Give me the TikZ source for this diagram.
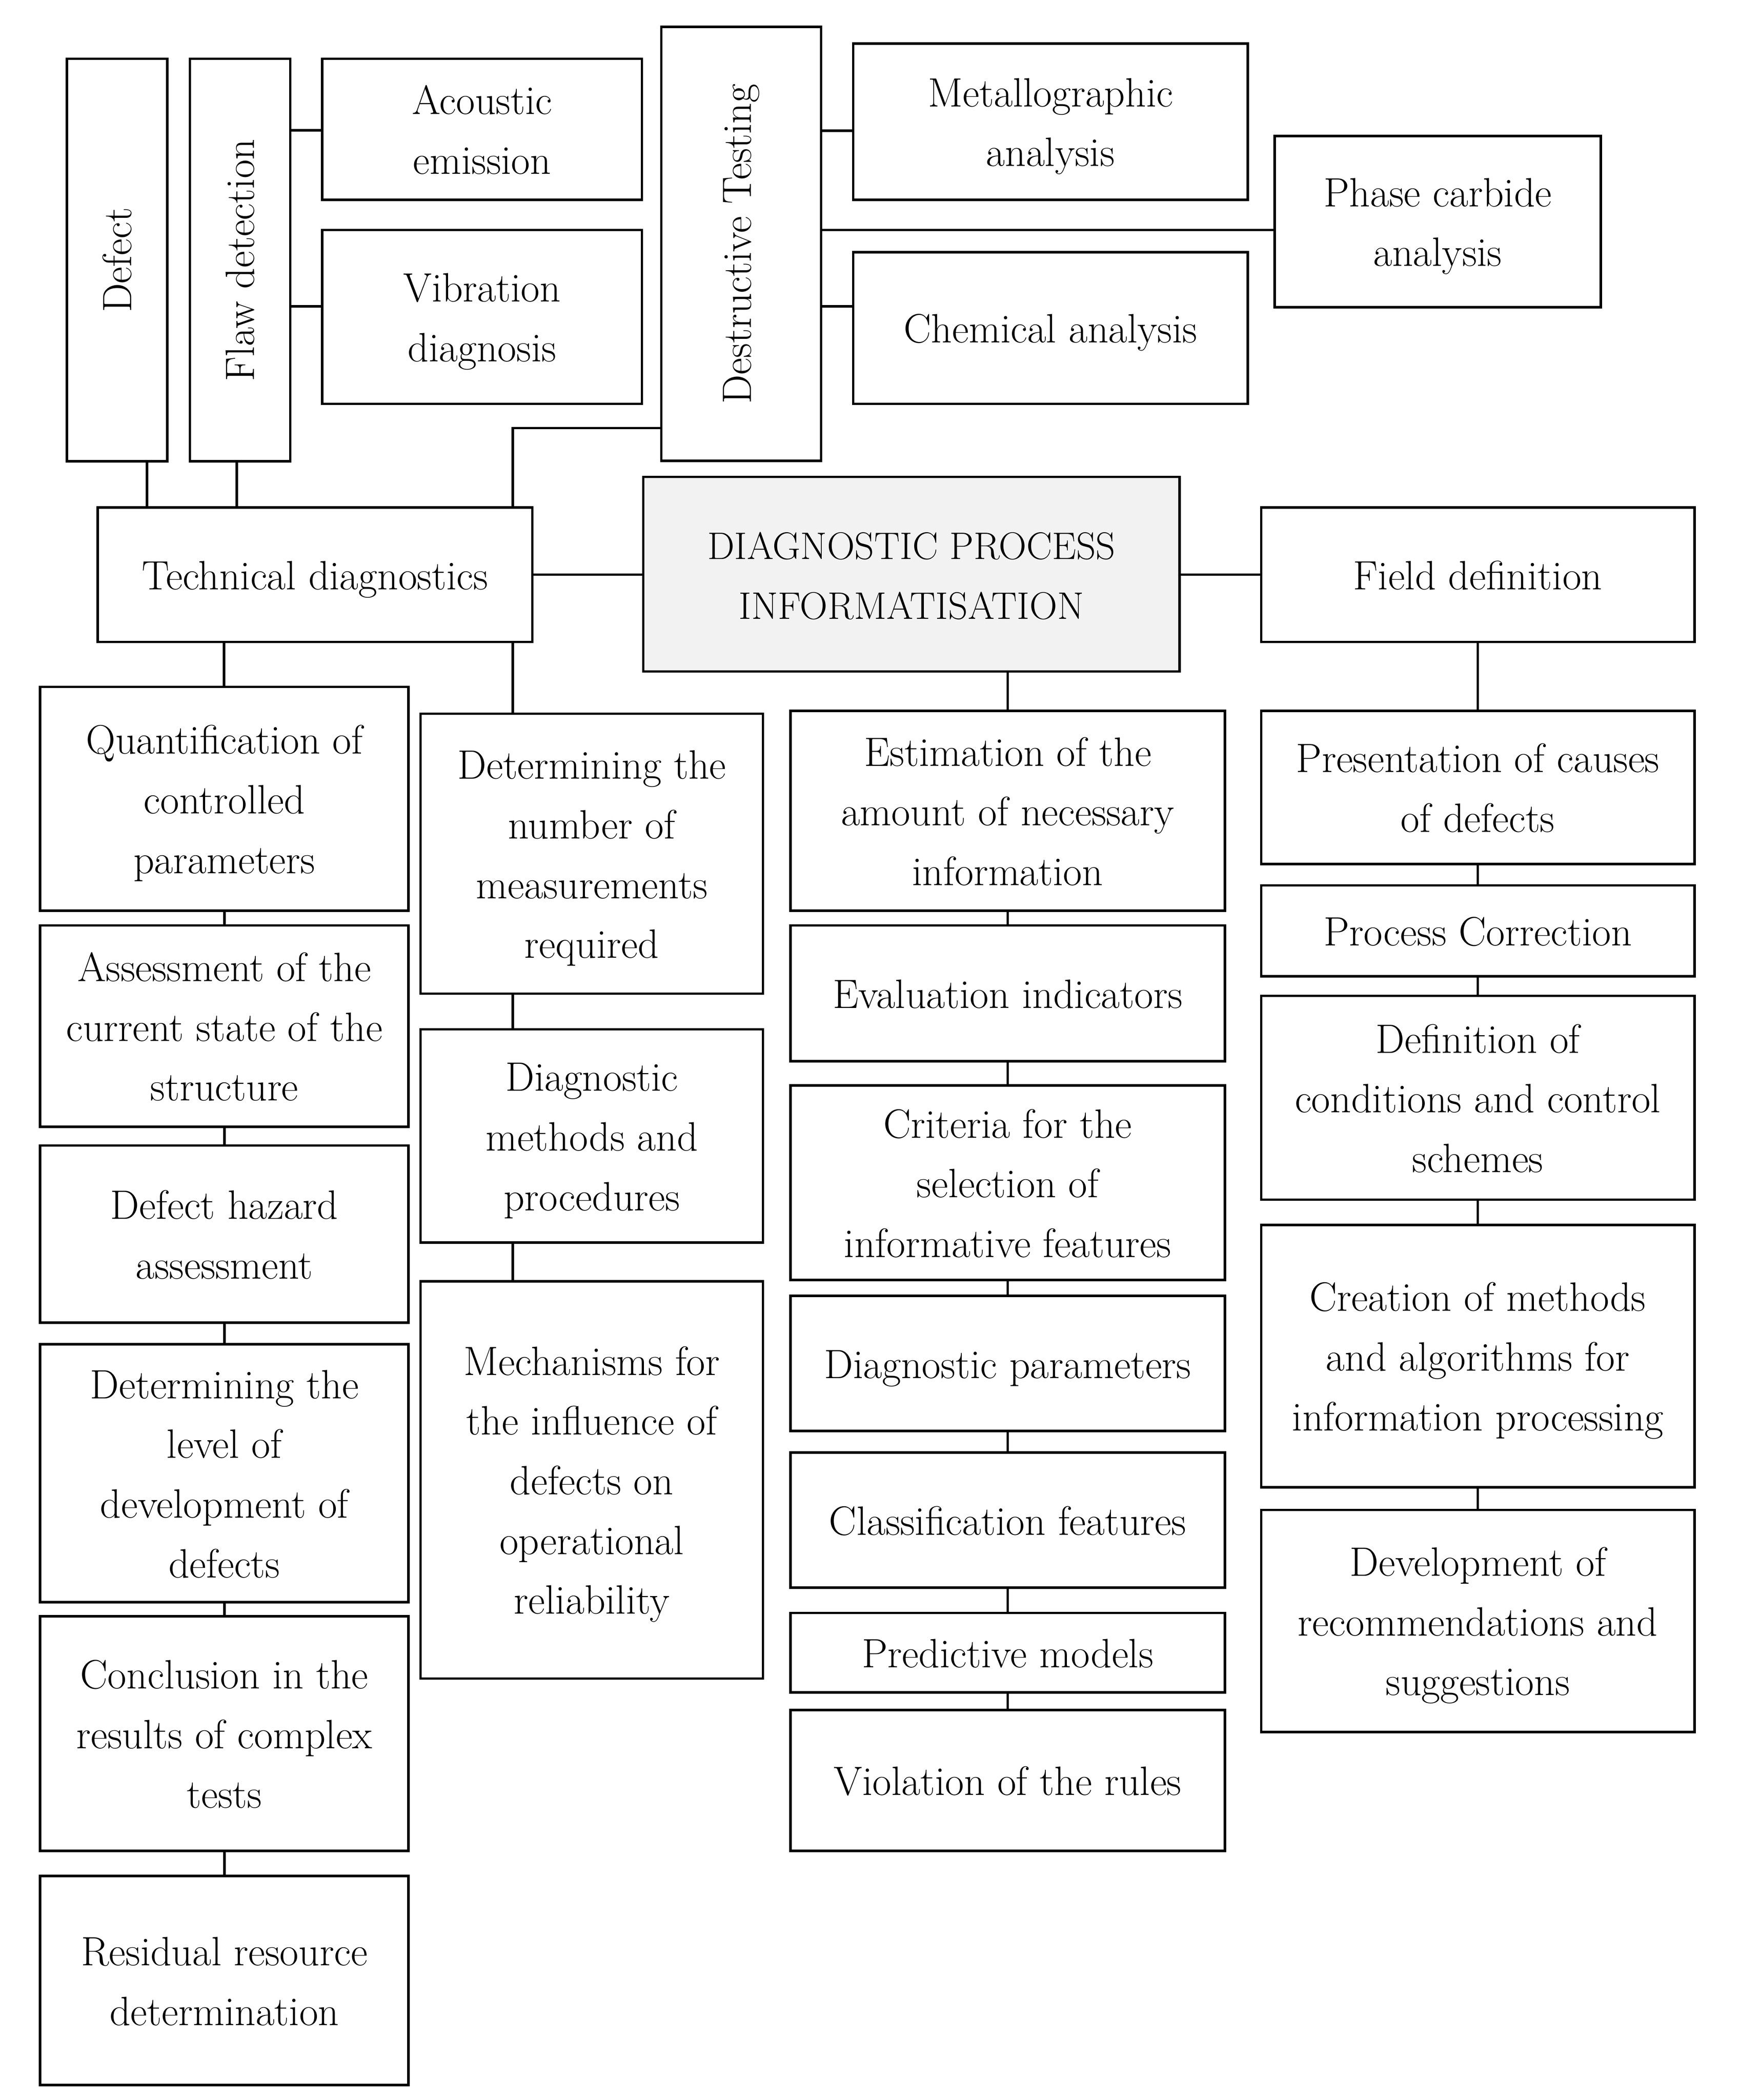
\documentclass[tikz,border=0pt]{standalone}
\usepackage{graphicx}
\definecolor{centerfill}{HTML}{F2F2F2}
\tikzset{
  box/.style={draw, line width=1.6pt, inner sep=0pt, outer sep=0pt, align=center,
    font=\fontsize{26.5}{38.6}\selectfont},
  conn/.style={line width=1.6pt}
}
\newcommand\bxstrut{\rule[-5.2pt]{0pt}{29.6pt}}
\newcommand\myboxbase[7][]{%
  \pgfmathsetmacro\bxcx{(#3+#5)/2}%
  \pgfmathsetmacro\bxcy{(#4+#6)/2}%
  \pgfmathsetmacro\bxw{(#5-#3)*0.0303846}%
  \pgfmathsetmacro\bxh{(#6-#4)*0.0303846}%
  \node[box,minimum width=\bxw cm,minimum height=\bxh cm,#1] (#2) at (\bxcx,\bxcy) {#7};}
\newcommand\mybox[7][]{\myboxbase[#1]{#2}{#3}{#4}{#5}{#6}{\bxstrut#7\bxstrut}}
\newcommand\myboxv[7][]{\myboxbase[#1]{#2}{#3}{#4}{#5}{#6}{\rotatebox{90}{#7}}}
\begin{document}
\begin{tikzpicture}[x=0.0303846cm, y=-0.0303846cm]
\useasboundingbox (0,0) rectangle (1300,1570.2);
% top row
\myboxv{defect}{50}{44}{125}{345}{Defect}
\myboxv{flaw}{142}{44}{217}{345}{Flaw detection}
\mybox{acoustic}{241}{44}{480}{149.5}{Acoustic\\emission}
\mybox{vibration}{241}{172}{480}{302}{Vibration\\diagnosis}
\myboxv{destr}{494.5}{20}{614}{344.6}{Destructive Testing}
\mybox{metallo}{638}{32.6}{933}{149.5}{Metallographic\\analysis}
\mybox{chemical}{638}{188.5}{933}{302}{Chemical analysis}
\mybox{phase}{953}{101.6}{1197}{229.8}{Phase carbide\\analysis}
% middle row
\mybox{tech}{73}{379.4}{398}{480}{Technical diagnostics}
\mybox[fill=centerfill, font=\fontsize{24.8}{38.6}\selectfont]{center}{481}{356.6}{882}{502}{DIAGNOSTIC PROCESS\\INFORMATISATION}
\mybox{field}{943}{379.4}{1267}{480}{Field definition}
% column 1
\mybox{quant}{30}{513.6}{305.5}{681}{Quantification of\\controlled\\parameters}
\mybox{assess}{30}{692}{305.5}{842.5}{Assessment of the\\current state of the\\structure}
\mybox{hazard}{30}{856.5}{305.5}{989}{Defect hazard\\assessment}
\mybox{level}{30}{1005}{305.5}{1198}{Determining the\\level of\\development of\\defects}
\mybox{concl}{30}{1208.4}{305.5}{1384}{Conclusion in the\\results of complex\\tests}
\mybox{resid}{30}{1402.6}{305.5}{1559}{Residual resource\\determination}
% column 2
\mybox{numb}{314.5}{533.6}{570.5}{743}{Determining the\\number of\\measurements\\required}
\mybox{methods}{314.5}{769.6}{570.5}{929}{Diagnostic\\methods and\\procedures}
\mybox{mech}{314.5}{958}{570.5}{1255}{Mechanisms for\\the influence of\\defects on\\operational\\reliability}
% column 3
\mybox{estim}{591}{531.5}{916}{681}{Estimation of the\\amount of necessary\\information}
\mybox{eval}{591}{692}{916}{793.4}{Evaluation indicators}
\mybox{crit}{591}{811.6}{916}{957}{Criteria for the\\selection of\\informative features}
\mybox{dparam}{591}{969}{916}{1070}{Diagnostic parameters}
\mybox{classif}{591}{1086}{916}{1187}{Classification features}
\mybox{predict}{591}{1206}{916}{1265.5}{Predictive models}
\mybox{viol}{591}{1278.5}{916}{1384}{Violation of the rules}
% column 4
\mybox{present}{943}{531.5}{1267}{646}{Presentation of causes\\of defects}
\mybox{proc}{943}{662}{1267}{730}{Process Correction}
\mybox{defin}{943}{744.6}{1267}{897}{Definition of\\conditions and control\\schemes}
\mybox{creat}{943}{916}{1267}{1112}{Creation of methods\\and algorithms for\\information processing}
\mybox{develop}{943}{1129}{1267}{1295}{Development of\\recommendations and\\suggestions}
% connectors top
\draw[conn] (flaw.east |- 0,97.5) -- (acoustic.west |- 0,97.5);
\draw[conn] (flaw.east |- 0,229) -- (vibration.west |- 0,229);
\draw[conn] (destr.east |- 0,97.7) -- (metallo.west |- 0,97.7);
\draw[conn] (destr.east |- 0,172) -- (phase.west |- 0,172);
\draw[conn] (destr.east |- 0,229) -- (chemical.west |- 0,229);
\draw[conn] (defect.south -| 110,0) -- (tech.north -| 110,0);
\draw[conn] (flaw.south -| 177,0) -- (tech.north -| 177,0);
\draw[conn] (tech.north -| 383.5,0) |- (destr.west |- 0,320);
\draw[conn] (tech.east) -- (tech.east -| center.west);
\draw[conn] (center.east |- field.west) -- (field.west);
% connectors down
\draw[conn] (tech.south -| 167.5,0) -- (quant.north -| 167.5,0);
\draw[conn] (tech.south -| 383.5,0) -- (numb.north -| 383.5,0);
\draw[conn] (center.south -| 753.5,0) -- (estim.north -| 753.5,0);
\draw[conn] (field.south) -- (present.north);
% column chains
\draw[conn] (quant) -- (assess);
\draw[conn] (assess) -- (hazard);
\draw[conn] (hazard) -- (level);
\draw[conn] (level) -- (concl);
\draw[conn] (concl) -- (resid);
\draw[conn] (numb.south -| 383.5,0) -- (methods.north -| 383.5,0);
\draw[conn] (methods.south -| 383.5,0) -- (mech.north -| 383.5,0);
\draw[conn] (estim) -- (eval);
\draw[conn] (eval) -- (crit);
\draw[conn] (crit) -- (dparam);
\draw[conn] (dparam) -- (classif);
\draw[conn] (classif) -- (predict);
\draw[conn] (predict) -- (viol);
\draw[conn] (present) -- (proc);
\draw[conn] (proc) -- (defin);
\draw[conn] (defin) -- (creat);
\draw[conn] (creat) -- (develop);
\end{tikzpicture}
\end{document}
